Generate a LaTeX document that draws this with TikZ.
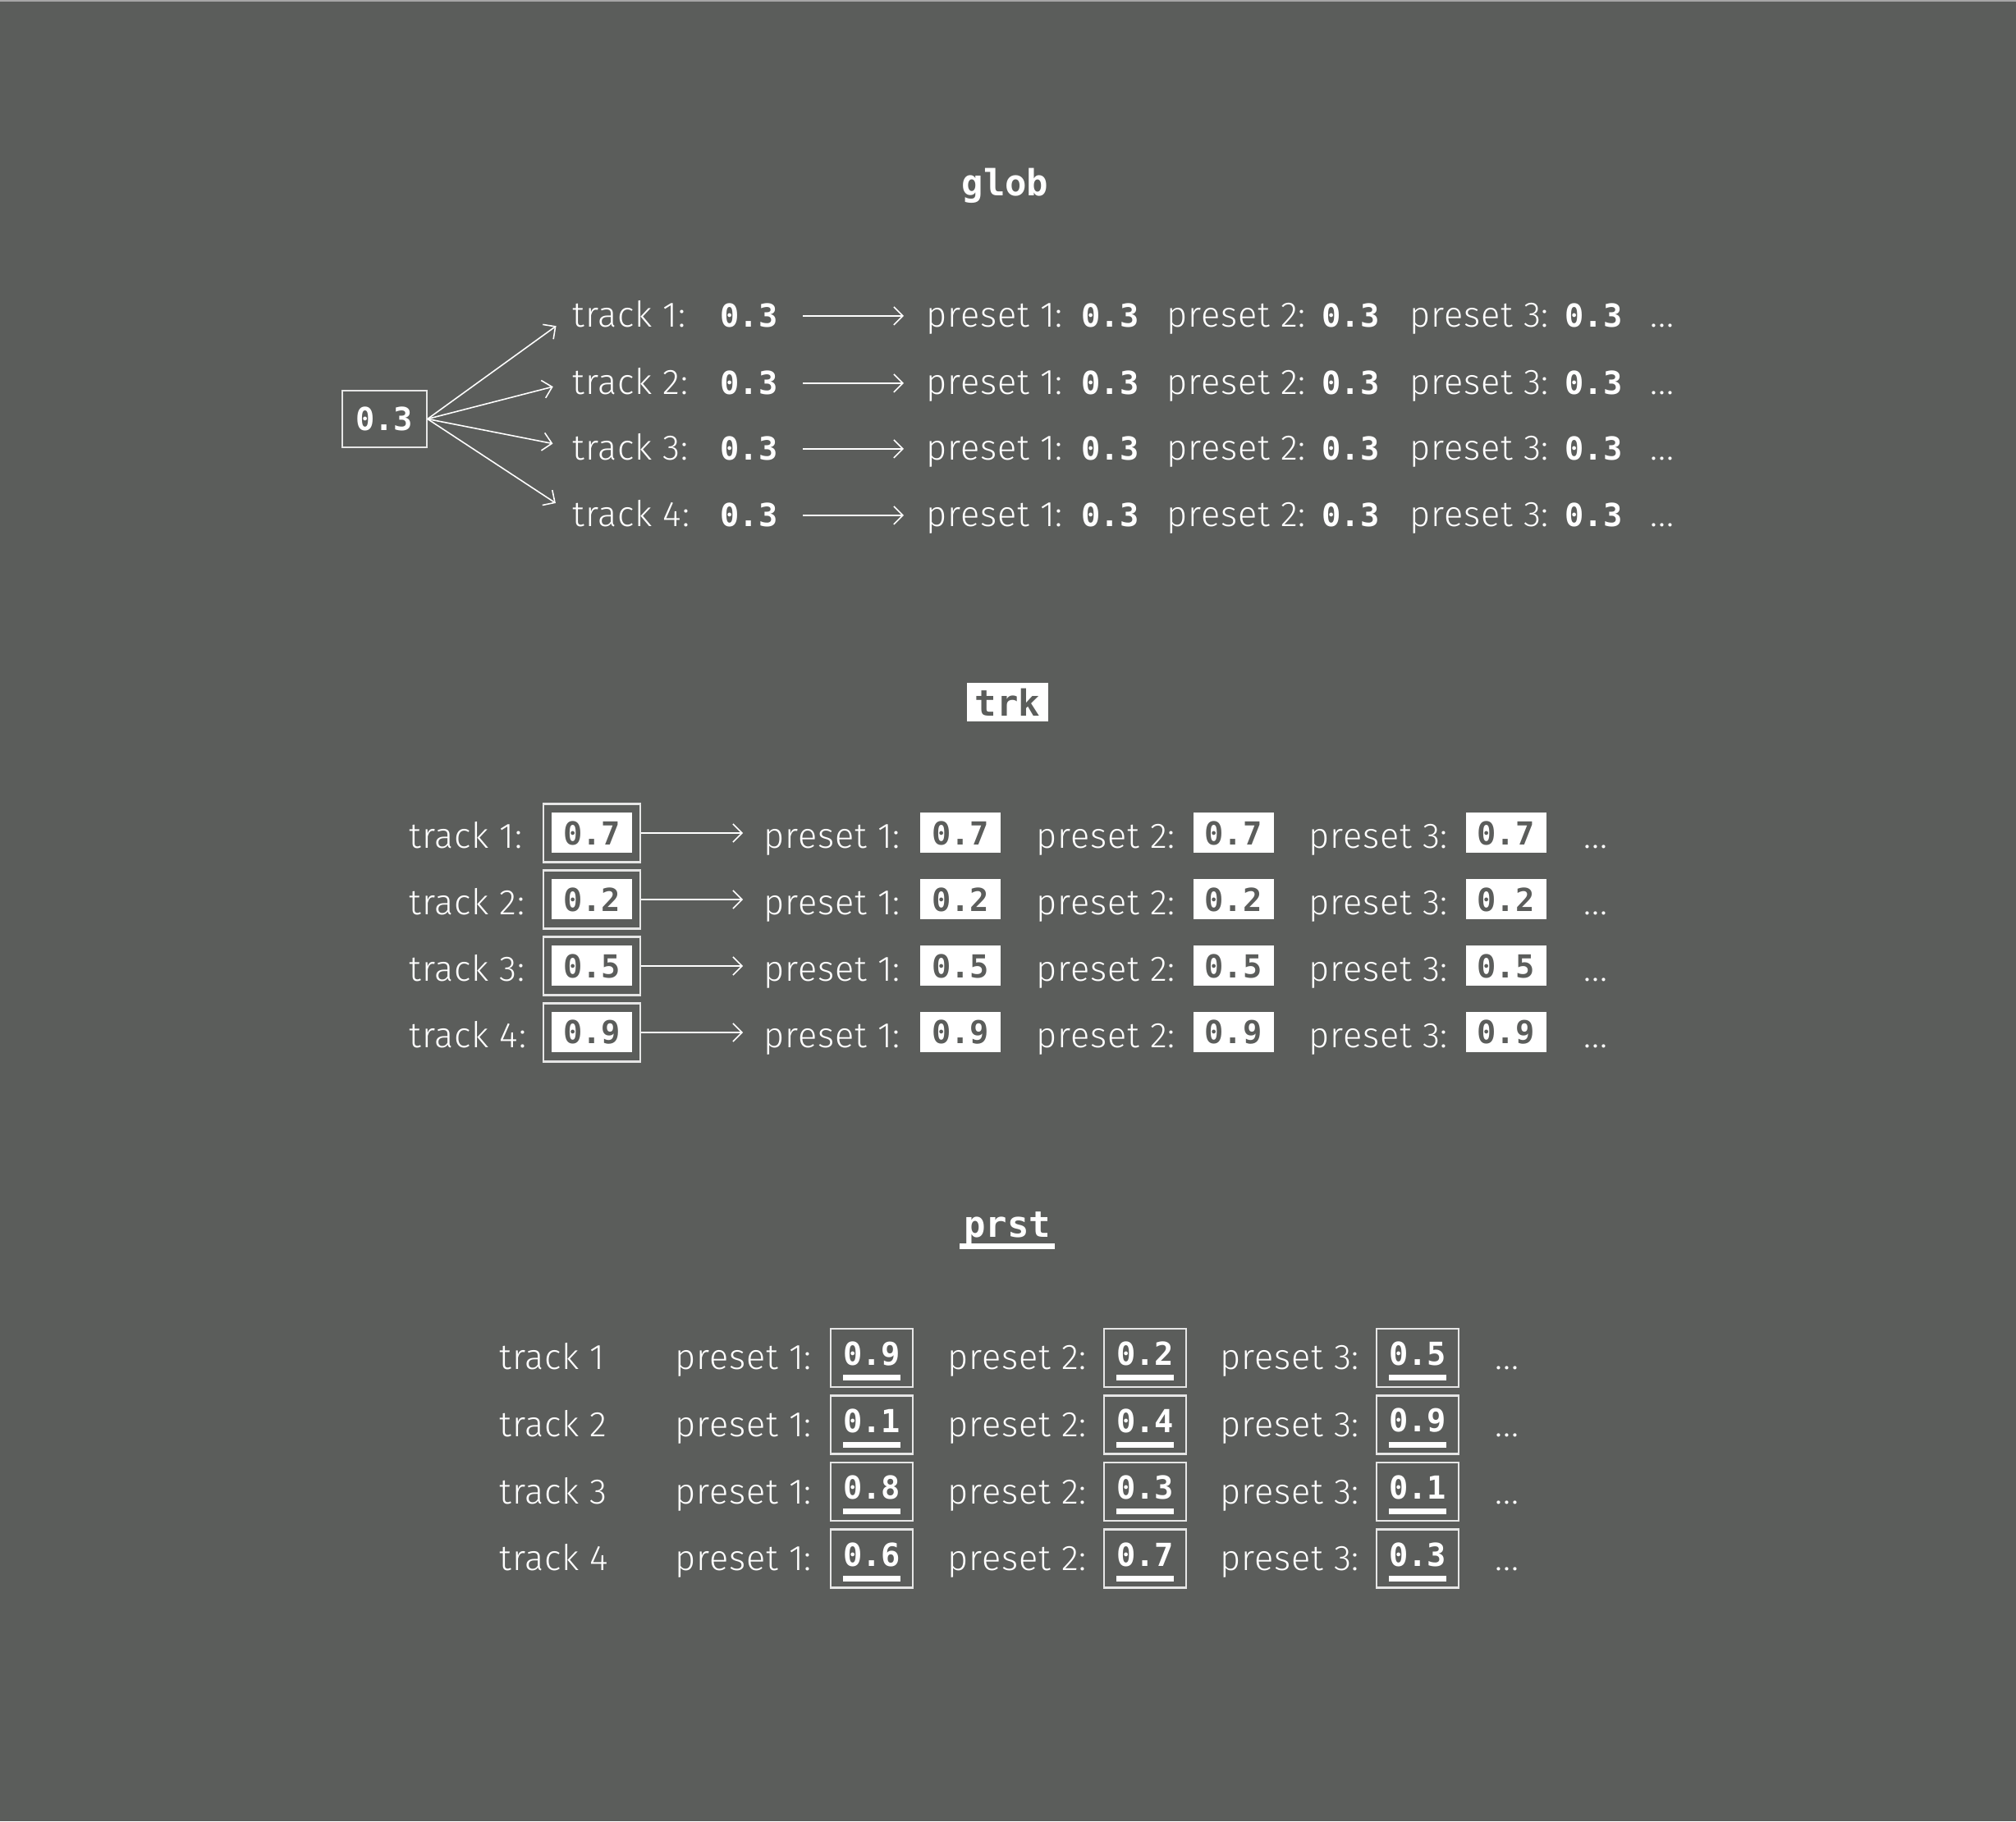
\documentclass[tikz,border=0pt]{standalone}
\usepackage{fontspec}
\setmainfont{Fira Sans Light}[LetterSpace=2]
\newfontfamily\pixfont{DejaVu Sans Mono}
\usetikzlibrary{arrows.meta}

\definecolor{bgray}{HTML}{5B5D5B}
\definecolor{fgray}{HTML}{E6E6E6}
\newcommand\lblfont{\fontsize{12.3}{14}\selectfont}
\newcommand\numfont{\pixfont\bfseries\fontsize{11}{12}\selectfont}
\newcommand\hdfont{\pixfont\bfseries\fontsize{12.5}{14}\selectfont}
\newcommand\undl[1]{\vtop{\hbox{#1}\kern3.2pt\hrule height 2pt}}

\begin{document}
\begin{tikzpicture}[
  lbl/.style={anchor=base west,inner sep=0,text=white,font=\lblfont},
  val/.style={anchor=base west,inner sep=0,text=white,font=\numfont},
  frm/.style={draw=fgray,line width=.6pt,inner sep=0},
  wbox/.style={fill=white,text=bgray,inner sep=0,minimum width=.98cm,minimum height=.49cm,font=\numfont},
  ubox/.style={frm,text=white,minimum width=1cm,minimum height=.71cm,text height=10.5pt,font=\numfont},
  arr/.style={-{Straight Barb[length=1.1mm,width=2.2mm]},white,line width=.45pt}
]

\fill[bgray] (0,0) rectangle (24.56,22.19);
\fill[gray!70] (0,22.17) rectangle (24.56,22.19);

% glob
\node[anchor=base,inner sep=0,text=white,font=\hdfont] (glob) at (12.245,19.80) {glob};
\node[frm,text=white,minimum width=1.03cm,minimum height=.69cm,font=\numfont] (g) at (4.683,17.085) {0.3};

\foreach \y/\n in {18.20/1,17.38/2,16.58/3,15.77/4}{
  \node[lbl] (gt\n) at (6.97,\y) {track \n:};
  \node[val] (gv\n) at (8.77,\y) {0.3};
  \node[lbl] (gpa\n) at (11.28,\y) {preset 1:};
  \node[val] (gva\n) at (13.17,\y) {0.3};
  \node[lbl] (gpb\n) at (14.21,\y) {preset 2:};
  \node[val] (gvb\n) at (16.10,\y) {0.3};
  \node[lbl] (gpc\n) at (17.17,\y) {preset 3:};
  \node[val] (gvc\n) at (19.06,\y) {0.3};
  \node[lbl] (gd\n) at (20.10,\y) {...};
  \draw[arr,shorten >=.24cm] (g.east) -- (gt\n.west);
  \draw[arr,shorten <=.3cm,shorten >=.27cm] (gv\n.east) -- (gv\n.east -| gpa\n.west);
}

% trk
\node[wbox,minimum width=.99cm,minimum height=.47cm,font=\hdfont] (trk) at (12.275,13.635) {trk};

\foreach \yb/\yc/\n/\v in {11.85/12.04/1/0.7,11.04/11.23/2/0.2,10.23/10.42/3/0.5,9.42/9.61/4/0.9}{
  \node[lbl] (tt\n) at (4.98,\yb) {track \n:};
  \node[frm,minimum width=1.18cm,minimum height=.71cm] (tf\n) at (7.21,\yc) {};
  \node[wbox] (tv\n) at (tf\n) {\v};
  \node[lbl] (tpa\n) at (9.30,\yb) {preset 1:};
  \node[wbox] (tva\n) at (11.70,\yc) {\v};
  \node[lbl] (tpb\n) at (12.62,\yb) {preset 2:};
  \node[wbox] (tvb\n) at (15.025,\yc) {\v};
  \node[lbl] (tpc\n) at (15.94,\yb) {preset 3:};
  \node[wbox] (tvc\n) at (18.345,\yc) {\v};
  \node[lbl] (td\n) at (19.29,\yb) {...};
  \draw[arr,shorten >=.25cm] (tf\n.east) -- (tf\n.east -| tpa\n.west);
}

% prst
\node[anchor=base,inner sep=0,text=white,font=\hdfont] (prst) at (12.27,7.11) {prst};
\fill[white] ([xshift=-.04cm,yshift=-.07cm]prst.base west) rectangle ([xshift=.04cm,yshift=-.14cm]prst.base east);

\foreach \yb/\yc/\n/\a/\b/\c in {5.50/5.645/1/0.9/0.2/0.5,4.685/4.83/2/0.1/0.4/0.9,3.87/4.015/3/0.8/0.3/0.1,3.055/3.20/4/0.6/0.7/0.3}{
  \node[lbl] (pt\n) at (6.08,\yb) {track \n};
  \node[lbl] (ppa\n) at (8.22,\yb) {preset 1:};
  \node[ubox] (pva\n) at (10.62,\yc) {\undl{\a}};
  \node[lbl] (ppb\n) at (11.54,\yb) {preset 2:};
  \node[ubox] (pvb\n) at (13.95,\yc) {\undl{\b}};
  \node[lbl] (ppc\n) at (14.86,\yb) {preset 3:};
  \node[ubox] (pvc\n) at (17.27,\yc) {\undl{\c}};
  \node[lbl] (pd\n) at (18.21,\yb) {...};
}

\end{tikzpicture}
\end{document}
